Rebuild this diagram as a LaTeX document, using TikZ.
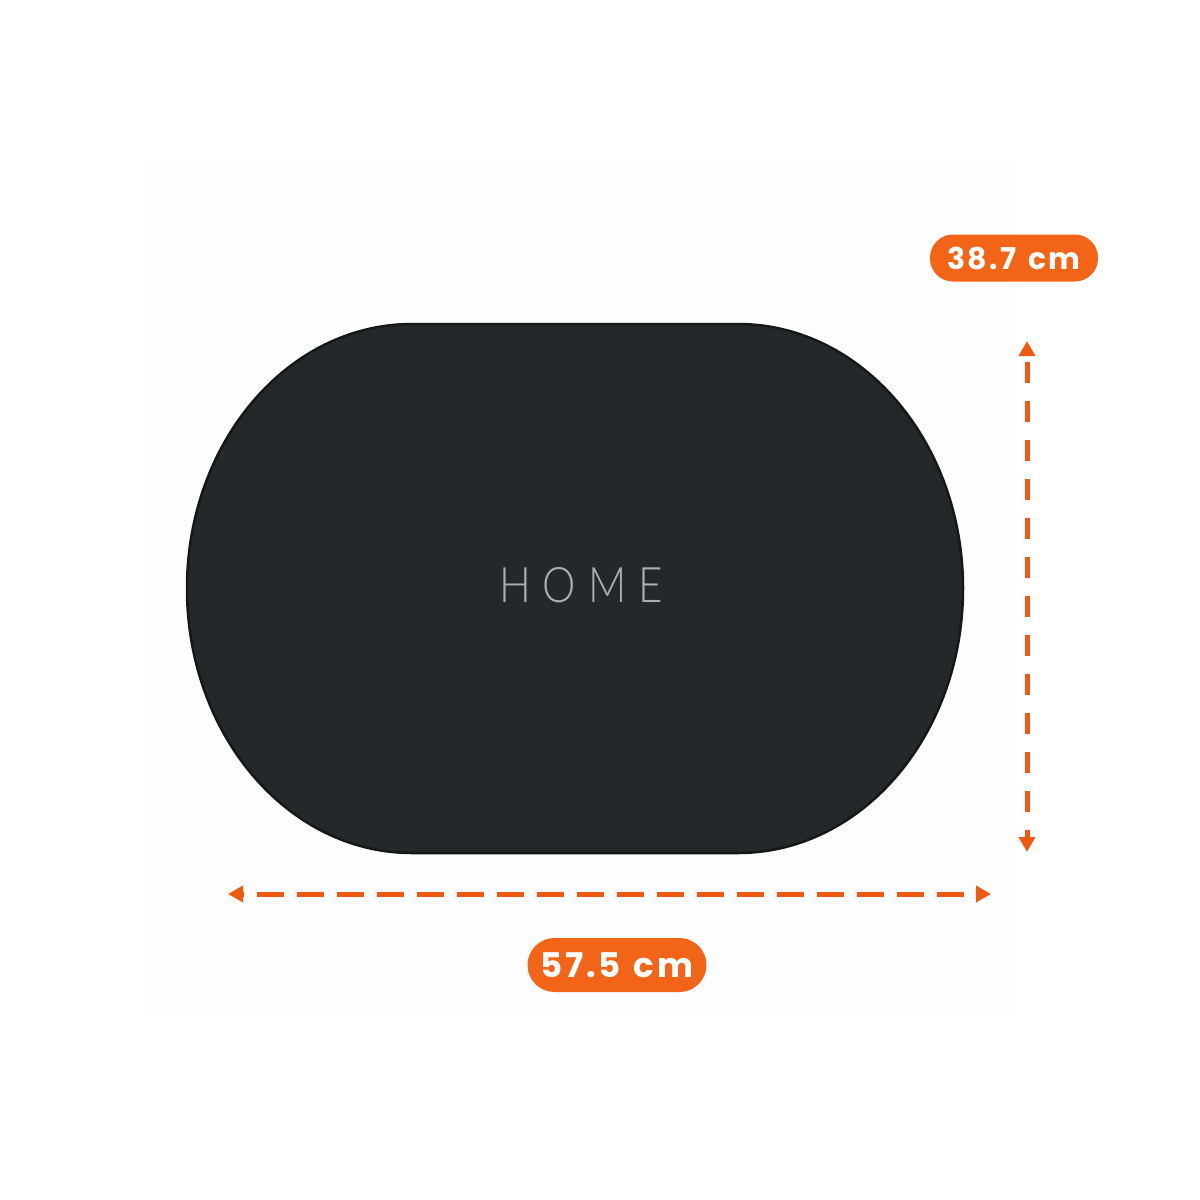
\documentclass[tikz,border=0pt]{standalone}
\usepackage{fontspec}
\setmainfont{Poppins}
\newfontfamily\homefont[LetterSpace=28]{Lato Light}
\usetikzlibrary{arrows.meta}

\definecolor{matgray}{HTML}{23292B}
\definecolor{matedge}{HTML}{141819}
\definecolor{dimorange}{HTML}{EE5A12}
\definecolor{pillorange}{HTML}{F26519}
\definecolor{hometext}{HTML}{ABAFB0}
\definecolor{backshade}{HTML}{FDFDFD}

\begin{document}
\begin{tikzpicture}[x=1pt,y=-1pt,
  dimline/.style={dimorange, line width=5pt,
    {Triangle[length=15pt,width=16pt]}-{Triangle[length=15pt,width=16pt]}},
  pill/.style={fill=pillorange, text=white, rounded corners=23pt,
    inner sep=0pt, font=\bfseries}]

\useasboundingbox (0,0) rectangle (1200,1200);
\fill[white] (0,0) rectangle (1200,1200);
\fill[backshade] (150,160) rectangle (1010,1015);

%% The mat
\filldraw[fill=matgray, draw=matedge, line width=2.5pt]
  (412,324) -- (738,324)
  arc[start angle=-90, end angle=90, x radius=225, y radius=264.5]
  -- (412,853)
  arc[start angle=90, end angle=270, x radius=225, y radius=264.5]
  -- cycle;
\node (home) [text=hometext, font=\homefont\fontsize{49}{49}\selectfont, xscale=0.86]
  at (581,585) {HOME};

%% Height
\coordinate (htop) at (1027,341);
\coordinate (hbot) at (1027,852);
\draw [dimline, dash pattern=on 21pt off 18pt, dash phase=32] (htop) -- (hbot);
\node (heightlabel) [pill, minimum width=168pt, minimum height=47pt,
  font=\bfseries\addfontfeature{LetterSpace=8}\fontsize{30}{30}\selectfont]
  at (1014,258) {38.7\hspace{3pt} cm};

%% Width
\coordinate (wleft) at (228,894);
\coordinate (wright) at (991,894);
\draw [dimline, dash pattern=on 27pt off 13pt, dash phase=25] (wleft) -- (wright);
\node (widthlabel) [pill, minimum width=179pt, minimum height=54pt,
  rounded corners=27pt,
  font=\bfseries\addfontfeature{LetterSpace=8}\fontsize{34}{34}\selectfont]
  at (617,965) {57.5\hspace{3pt} cm};

\end{tikzpicture}
\end{document}
